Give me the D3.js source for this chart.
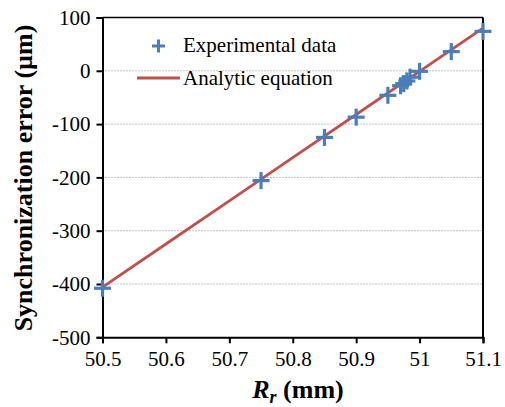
<!DOCTYPE html>
<html><head><meta charset="utf-8">
<script src="https://cdn.jsdelivr.net/npm/d3@7"></script>
<style>body{margin:0;background:#fff}svg{display:block}</style>
</head><body><svg id="c" width="505" height="407" font-family="Liberation Serif, Times New Roman, serif"></svg>
<script>
const expX = [50.5, 50.75, 50.85, 50.9, 50.95, 50.97, 50.975, 50.98, 50.985, 51.0, 51.05, 51.1];
const expY = [-408, -206, -125, -87, -46, -28, -24, -19, -12, -1, 36, 74];
const lineX = [50.5, 50.6, 50.7, 50.8, 50.9, 51.0, 51.1];
const lineY = [-406, -325, -244, -163, -82, -1, 80];
const xTicks = [50.5, 50.6, 50.7, 50.8, 50.9, 51.0, 51.1];
const yTicks = [100, 0, -100, -200, -300, -400, -500];
const gridY = [0, -100, -200, -300, -400];
const legendLabels = ["Experimental data", "Analytic equation"];

const FF = "Liberation Serif, Times New Roman, serif";
const svg = d3.select("#c");
const L = 102.5, R = 483, T = 17.5, B = 337.3;
const x = d3.scaleLinear().domain([50.5, 51.1]).range([L, R]);
const y = d3.scaleLinear().domain([-500, 100]).range([B, T]);
const blue = "#4A7EBB", red = "#C0504D";

// gridlines
svg.append("g").selectAll("line").data(gridY).join("line")
  .attr("x1", L).attr("x2", R).attr("y1", d => y(d)).attr("y2", d => y(d))
  .attr("stroke", "#8a8a8a").attr("stroke-width", 1).attr("stroke-dasharray", "1,2");

// frame top/right
svg.append("line").attr("x1", L).attr("x2", R).attr("y1", T).attr("y2", T).attr("stroke", "#000").attr("stroke-width", 1.5);
svg.append("line").attr("x1", R).attr("x2", R).attr("y1", T).attr("y2", B).attr("stroke", "#000").attr("stroke-width", 2);

// axes
const xa = svg.append("g").attr("transform", `translate(0,${B})`)
  .call(d3.axisBottom(x).tickValues(xTicks).tickSize(6).tickPadding(8).tickFormat(d3.format("")));
const ya = svg.append("g").attr("transform", `translate(${L},0)`)
  .call(d3.axisLeft(y).tickValues(yTicks).tickSize(6).tickPadding(6).tickFormat(d => d));
[xa, ya].forEach(g => {
  g.attr("font-family", FF).attr("font-size", 21);
  g.select(".domain").attr("stroke-width", 2).attr("stroke", "#000");
  g.selectAll(".tick line").attr("stroke-width", 2).attr("stroke", "#000");
  g.selectAll("text").attr("fill", "#000");
});
ya.selectAll("text").text(d => d < 0 ? "-" + Math.abs(d) : d);
xa.selectAll("text").attr("dy", "0.71em");

// analytic line
svg.append("path").datum(lineX.map((v, i) => [v, lineY[i]]))
  .attr("d", d3.line().x(d => x(d[0])).y(d => y(d[1])))
  .attr("fill", "none").attr("stroke", red).attr("stroke-width", 2.8);

// markers
function plus(g, cx, cy, h, w) {
  g.append("line").attr("x1", cx - h).attr("x2", cx + h).attr("y1", cy).attr("y2", cy)
    .attr("stroke", blue).attr("stroke-width", w);
  g.append("line").attr("x1", cx).attr("x2", cx).attr("y1", cy - h).attr("y2", cy + h)
    .attr("stroke", blue).attr("stroke-width", w);
}
const mg = svg.append("g");
expX.forEach((v, i) => plus(mg, x(v), y(expY[i]), 8.5, 3.2));

// legend
const lg = svg.append("g").attr("font-family", FF);
plus(lg, 158.5, 46, 6.5, 3);
lg.append("line").attr("x1", 137).attr("x2", 180).attr("y1", 78).attr("y2", 78)
  .attr("stroke", red).attr("stroke-width", 2.8);
lg.append("text").attr("x", 183).attr("y", 52).attr("font-size", 21).text(legendLabels[0]);
lg.append("text").attr("x", 183).attr("y", 85).attr("font-size", 21).text(legendLabels[1]);

// axis titles
const xt = svg.append("text").attr("x", 298).attr("y", 398).attr("text-anchor", "middle")
  .attr("font-family", FF).attr("font-size", 26).attr("font-weight", "bold");
xt.append("tspan").attr("font-style", "italic").text("R");
xt.append("tspan").attr("font-style", "italic").attr("font-size", 18).attr("dy", 5).text("r");
xt.append("tspan").attr("dy", -5).text(" (mm)");

svg.append("text").attr("transform", "translate(32,178) rotate(-90)").attr("text-anchor", "middle")
  .attr("font-family", FF).attr("font-size", 26).attr("font-weight", "bold").text("Synchronization error (µm)");
</script></body></html>
